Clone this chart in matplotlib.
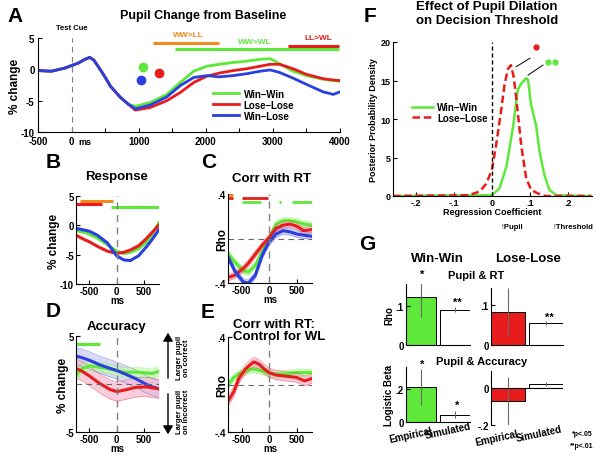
import numpy as np
import matplotlib
matplotlib.use('Agg')
import matplotlib.pyplot as plt

plt.rcParams['font.family'] = ['Liberation Sans', 'DejaVu Sans']
plt.rcParams['font.weight'] = 'bold'
plt.rcParams['axes.labelweight'] = 'bold'
plt.rcParams['axes.linewidth'] = 0.8

GREEN = '#5de83a'
RED = '#e81c1c'
BLUE = '#2b3fe0'
ORANGE = '#f28a1e'
LGREEN = '#c8f5b0'
LRED = '#f7b8d0'
LBLUE = '#c8c8f5'

# ── Panel A: pupil change from baseline ──────────────────────────
t_A = [-500, -300, -100, 0, 100, 200, 270, 330, 400, 480, 580, 730, 850, 950,
       1170, 1420, 1620, 1820, 2015, 2200, 2410, 2610, 2810, 2960, 3100, 3300,
       3500, 3750, 3900, 4000]
early_A = [-0.2, -0.3, 0.2, 0.6, 1.0, 1.6, 1.9, 1.5, 0.4, -0.9, -2.7, -4.5, -5.6]
ww_A = early_A + [-5.9, -5.3, -4.0, -2.1, -0.3, 0.5, 0.8, 1.1, 1.3, 1.6, 1.7,
                  0.9, -0.3, -1.0, -1.6, -1.8, -1.9]
ll_A = early_A + [-6.5, -6.1, -5.0, -3.7, -2.1, -1.1, -0.6, -0.2, 0.1, 0.5, 0.8,
                  0.8, 0.1, -0.8, -1.5, -1.7, -1.8]
wl_A = early_A + [-6.3, -5.7, -4.4, -2.6, -1.3, -1.0, -1.2, -1.0, -0.7, -0.3,
                  -0.1, -0.5, -1.4, -2.4, -3.6, -4.0, -3.6]
sig_A = [('WW>LL', ORANGE, 1220, 2190, 4.2, 1740, 5.6),
         ('WW>WL', GREEN, 1540, 3980, 3.2, 2730, 4.4),
         ('LL>WL', RED, 3220, 3990, 3.7, 3680, 5.1)]
dots_A = [(GREEN, 1070, 0.3), (BLUE, 1040, -1.7), (RED, 1305, -0.6)]

# ── Panel B: response locked ─────────────────────────────────────
t_B = [-740, -600, -500, -350, -170, 0, 130, 250, 400, 550, 650, 770]
ww_B = [-0.9, -1.2, -1.5, -2.2, -3.3, -4.4, -4.8, -4.6, -4.0, -2.8, -1.5, 0.4]
wl_B = [-0.5, -0.8, -1.0, -1.7, -3.0, -5.2, -5.9, -6.0, -5.2, -3.6, -2.4, -0.8]
ll_B = [-1.7, -2.4, -2.8, -3.6, -4.4, -4.8, -4.6, -4.2, -3.5, -2.2, -1.2, 0.0]
sig_B = [(ORANGE, -672, -60, 4.1), (RED, -740, -274, 3.7), (GREEN, -107, 770, 3.2)]

# ── Panel C: correlation with RT ─────────────────────────────────
t_C = [-740, -625, -470, -375, -250, -125, 0, 125, 250, 375, 500, 625, 770]
ww_C = [-0.14, -0.21, -0.29, -0.30, -0.24, -0.12, 0.0, 0.13, 0.16, 0.16, 0.15, 0.13, 0.12]
ll_C = [-0.35, -0.33, -0.27, -0.22, -0.14, -0.06, 0.01, 0.09, 0.12, 0.13, 0.11, 0.07, 0.08]
wl_C = [-0.17, -0.29, -0.39, -0.40, -0.33, -0.15, -0.03, 0.04, 0.07, 0.06, 0.04, 0.03, 0.02]
sem_C = [0.03, 0.03, 0.03]
sig_C = [(ORANGE, -740, -650, 0.39), (RED, -740, -650, 0.36), (RED, -488, -30, 0.36),
         (GREEN, -500, -156, 0.33), (GREEN, 170, 210, 0.33), (GREEN, 406, 770, 0.33)]

# ── Panel D: accuracy ────────────────────────────────────────────
t_D = [-740, -640, -490, -310, -130, 0, 170, 350, 530, 650, 770]
ww_D = [0.9, 1.6, 1.9, 1.75, 1.55, 1.4, 1.2, 1.25, 1.15, 1.1, 1.3]
wl_D = [2.9, 2.75, 2.45, 2.0, 1.65, 1.4, 1.0, 0.55, 0.0, -0.3, -0.5]
ll_D = [1.6, 1.35, 0.8, 0.05, -0.55, -0.8, -0.6, -0.35, -0.3, -0.4, -0.5]
sem_D = [0.5, 0.9, 1.0]
sig_D = [(GREEN, -740, -310, 4.2)]

# ── Panel E: corr with RT, control for WL ────────────────────────
t_E = [-760, -640, -550, -430, -335, -275, -180, -90, 0, 122, 305, 490, 640, 770]
ww_E = [-0.01, 0.06, 0.09, 0.11, 0.13, 0.13, 0.12, 0.11, 0.09, 0.09, 0.09, 0.10, 0.10, 0.10]
ll_E = [-0.15, -0.06, 0.05, 0.13, 0.17, 0.19, 0.17, 0.13, 0.10, 0.08, 0.07, 0.06, 0.03, 0.05]
sem_E = [0.03, 0.04]

# ── Panel F: posterior of regression coefficient ─────────────────
x_ll_F = [-0.26, -0.06, -0.032, -0.015, 0.0, 0.011, 0.025, 0.033, 0.042, 0.05,
          0.057, 0.064, 0.077, 0.09, 0.103, 0.12, 0.14, 0.26]
y_ll_F = [0, 0.1, 0.6, 1.6, 3.4, 6.6, 11.4, 14.4, 16.5, 17.0, 15.5, 12.7, 6.6,
          2.3, 0.8, 0.35, 0, 0]
x_ww_F = [-0.26, 0.0, 0.02, 0.038, 0.055, 0.068, 0.077, 0.09, 0.095, 0.103,
          0.116, 0.125, 0.138, 0.151, 0.169, 0.26]
y_ww_F = [0, 0.1, 1.0, 3.8, 8.8, 13.8, 14.6, 15.3, 15.1, 11.8, 9.2, 5.8, 2.7,
          0.8, 0.1, 0]

# ── Panel G: empirical vs simulated ──────────────────────────────
bar_labels = ['Empirical', 'Simulated']
ww_rt = [0.122, 0.090]
ww_rt_err = [0.05, 0.006]
ll_rt = [0.084, 0.055]
ll_rt_err = [0.06, 0.006]
ww_acc = [0.21, 0.045]
ww_acc_err = [0.11, 0.022]
ll_acc = [-0.07, 0.022]
ll_acc_err = [0.13, 0.012]


fig = plt.figure(figsize=(6, 4.6), dpi=100)


def px_axes(l, t, r, b):
    return fig.add_axes([l / 600, 1 - b / 460, (r - l) / 600, (b - t) / 460])


def ftext(x, y, s, **kw):
    fig.text(x / 600, 1 - y / 460, s, **kw)


def style(ax, fs=7):
    for s in ['top', 'right']:
        ax.spines[s].set_visible(False)
    ax.tick_params(direction='in', labelsize=fs, length=3, width=0.8, pad=1.5)


def time_panel(ax, ylim, yticks, ylabels):
    ax.set_xlim(-745, 775)
    ax.set_ylim(*ylim)
    ax.set_xticks([-500, 0, 500])
    ax.set_xticklabels(['-500', '0', '500'])
    ax.set_yticks(yticks)
    ax.set_yticklabels(ylabels)
    ax.axvline(0, color='gray', ls=(0, (5, 4)), lw=1)
    style(ax)
    ax.set_xlabel('ms', fontsize=7, labelpad=-1)


# A
axA = px_axes(38, 39, 340, 133)
axA.plot(t_A, ww_A, color=GREEN, lw=2, label='Win\u2013Win')
axA.plot(t_A, ll_A, color=RED, lw=2, label='Lose\u2013Lose')
axA.plot(t_A, wl_A, color=BLUE, lw=2, label='Win\u2013Lose')
axA.axvline(0, color='gray', ls=(0, (5, 4)), lw=0.8)
for lab, c, x0, x1, y, tx, ty in sig_A:
    axA.plot([x0, x1], [y, y], color=c, lw=2.2, solid_capstyle='butt')
    axA.text(tx, ty, lab, color=c, fontsize=6, ha='center', va='center', clip_on=False)
for c, x, y in dots_A:
    axA.plot(x, y, 'o', color=c, ms=6)
axA.set_xlim(-500, 4000)
axA.set_ylim(-10, 5)
axA.set_xticks(np.arange(-500, 4001, 500))
axA.set_xticklabels(['-500', '0', '', '1000', '', '2000', '', '3000', '', '4000'])
axA.set_yticks([5, 0, -5, -10])
axA.set_yticklabels(['5', '0', '-5', '-10'])
style(axA)
axA.tick_params(axis='x', pad=3)
axA.tick_params(axis='y', pad=2.5)
axA.set_ylabel('% change', fontsize=8.5, labelpad=0)
axA.text(0, 6.6, 'Test Cue', fontsize=5.5, ha='center', va='center', clip_on=False)
axA.text(105, -11.5, 'ms', fontsize=6.5, ha='left', va='center', clip_on=False)
axA.legend(loc='lower left', bbox_to_anchor=(0.565, 0.07), frameon=False,
           fontsize=7, handlelength=2.6, handletextpad=0.5, labelspacing=0.1,
           borderpad=0)
ftext(203, 16, 'Pupil Change from Baseline', fontsize=9, ha='center', va='center')
ftext(15, 17, 'A', fontsize=15, ha='center', va='center')

# B
axB = px_axes(76, 197, 159, 285)
axB.plot(t_B, ww_B, color=GREEN, lw=2.2)
axB.plot(t_B, ll_B, color=RED, lw=2.2)
axB.plot(t_B, wl_B, color=BLUE, lw=2.2)
for c, x0, x1, y in sig_B:
    axB.plot([x0, x1], [y, y], color=c, lw=2.2, solid_capstyle='butt')
time_panel(axB, (-10, 5), [5, 0, -5, -10], ['5', '0', '-5', '-10'])
axB.set_ylabel('% change', fontsize=8.5, labelpad=0)
ftext(117, 177, 'Response', fontsize=9.5, ha='center', va='center')
ftext(53, 163, 'B', fontsize=15, ha='center', va='center')

# C
axC = px_axes(228, 195, 312, 284)
for vals, s, c, lc in [(ww_C, sem_C[0], GREEN, LGREEN), (ll_C, sem_C[1], RED, LRED),
                       (wl_C, sem_C[2], BLUE, LBLUE)]:
    v = np.array(vals)
    axC.fill_between(t_C, v - s, v + s, color=lc, alpha=0.8, lw=0)
    axC.plot(t_C, v - s, color=c, lw=0.4, alpha=0.5)
    axC.plot(t_C, v + s, color=c, lw=0.4, alpha=0.5)
    axC.plot(t_C, v, color=c, lw=2.2)
for c, x0, x1, y in sig_C:
    axC.plot([x0, x1], [y, y], color=c, lw=2, solid_capstyle='butt')
axC.axhline(0, color='dimgray', ls=(0, (5, 4)), lw=0.8)
time_panel(axC, (-0.4, 0.4), [0.4, -0.4], ['.4', '-.4'])
axC.set_ylabel('Rho', fontsize=8.5, labelpad=-10)
ftext(272, 179, 'Corr with RT', fontsize=9.5, ha='center', va='center')
ftext(209, 163, 'C', fontsize=15, ha='center', va='center')

# D
axD = px_axes(76, 337, 159, 433)
for vals, s, c, lc in [(wl_D, sem_D[1], BLUE, LBLUE), (ll_D, sem_D[2], RED, LRED),
                       (ww_D, sem_D[0], GREEN, LGREEN)]:
    v = np.array(vals)
    axD.fill_between(t_D, v - s, v + s, color=lc, alpha=0.7, lw=0)
    axD.plot(t_D, v - s, color=c, lw=0.4, alpha=0.5)
    axD.plot(t_D, v + s, color=c, lw=0.4, alpha=0.5)
for vals, c in [(ww_D, GREEN), (wl_D, BLUE), (ll_D, RED)]:
    axD.plot(t_D, vals, color=c, lw=2.2)
for c, x0, x1, y in sig_D:
    axD.plot([x0, x1], [y, y], color=c, lw=2.2, solid_capstyle='butt')
axD.axhline(0, color='dimgray', ls=(0, (5, 4)), lw=0.8)
time_panel(axD, (-5, 5), [5, -5], ['5', '-5'])
axD.set_ylabel('% change', fontsize=8.5, labelpad=-3)
ftext(117, 327, 'Accuracy', fontsize=9.5, ha='center', va='center')
ftext(53, 312, 'D', fontsize=15, ha='center', va='center')
fig.add_artist(matplotlib.patches.FancyArrowPatch(
    (168 / 600, 1 - 382 / 460), (168 / 600, 1 - 331 / 460), transform=fig.transFigure,
    arrowstyle='-|>,head_length=5,head_width=3', color='black', lw=1))
fig.add_artist(matplotlib.patches.FancyArrowPatch(
    (168 / 600, 1 - 392 / 460), (168 / 600, 1 - 438 / 460), transform=fig.transFigure,
    arrowstyle='-|>,head_length=5,head_width=3', color='black', lw=1))
ftext(183, 358, 'Larger pupil\non correct', fontsize=5.5, rotation=90,
      ha='center', va='center', linespacing=1.0)
ftext(183, 412, 'Larger pupil\non incorrect', fontsize=5.5, rotation=90,
      ha='center', va='center', linespacing=1.0)

# E
axE = px_axes(228, 338, 312, 433)
for vals, s, c, lc in [(ww_E, sem_E[0], GREEN, LGREEN), (ll_E, sem_E[1], RED, LRED)]:
    v = np.array(vals)
    axE.fill_between(t_E, v - s, v + s, color=lc, alpha=0.8, lw=0)
    axE.plot(t_E, v - s, color=c, lw=0.4, alpha=0.5)
    axE.plot(t_E, v + s, color=c, lw=0.4, alpha=0.5)
    axE.plot(t_E, v, color=c, lw=2.2)
axE.axhline(0, color='dimgray', ls=(0, (5, 4)), lw=0.8)
time_panel(axE, (-0.4, 0.4), [0.4, -0.4], ['.4', '-.4'])
axE.set_ylabel('Rho', fontsize=8.5, labelpad=-10)
ftext(233, 331, 'Corr with RT:\nControl for WL', fontsize=9.5, ha='left',
      va='center', linespacing=1.1)
ftext(208, 313, 'E', fontsize=15, ha='center', va='center')

# F
axF = px_axes(393, 43, 592, 197)
axF.plot(x_ww_F, y_ww_F, color=GREEN, lw=1.8, label='Win\u2013Win')
axF.plot(x_ll_F, y_ll_F, color=RED, lw=1.8, ls=(0, (3, 1.5)), label='Lose\u2013Lose')
axF.axvline(0, color='black', ls=(0, (3, 2)), lw=1)
axF.plot([0.064, 0.1], [16.8, 17.9], color='black', lw=0.7)
axF.plot([0.095, 0.134], [15.7, 17.0], color='black', lw=0.7)
axF.plot([0.117], [19.4], 'o', color=RED, ms=3.5)
axF.plot([0.147, 0.167], [17.4, 17.4], 'o', color=GREEN, ms=3.5, ls='none')
axF.set_xlim(-0.26, 0.263)
axF.set_ylim(0, 20)
axF.set_xticks([-0.2, -0.1, 0, 0.1, 0.2])
axF.set_xticklabels(['-.2', '-.1', '0', '.1', '.2'])
axF.set_yticks([0, 5, 10, 15, 20])
style(axF, fs=6.5)
axF.set_xlabel('Regression Coefficient', fontsize=6.5, labelpad=0)
axF.set_ylabel('Posterior Probability Density', fontsize=6.5, labelpad=2)
axF.legend(loc='upper left', bbox_to_anchor=(0.07, 0.64), frameon=False,
           fontsize=7, handlelength=2.2, handletextpad=0.4, labelspacing=0.05,
           borderpad=0)
ftext(512, 228, '\u2191Pupil', fontsize=5.5, ha='center', va='center')
ftext(573, 228, '\u2191Threshold', fontsize=5.5, ha='center', va='center')
ftext(487, 14, 'Effect of Pupil Dilation\non Decision Threshold', fontsize=9.5,
      ha='center', va='center', linespacing=1.15)
ftext(370, 17, 'F', fontsize=15, ha='center', va='center')

# G
def bar_panel(rect, vals, errs, color, ylim, yticks, ylabels, xlab):
    ax = px_axes(*rect)
    x = np.arange(len(vals))
    ax.bar(x, vals, width=0.9, color=[color, 'white'], edgecolor='black', lw=0.7)
    ax.errorbar(x, vals, yerr=errs, fmt='none', ecolor='dimgray', elinewidth=0.8,
                capsize=0, clip_on=True)
    ax.set_xlim(-0.45, 1.45)
    ax.set_ylim(*ylim)
    ax.set_yticks(yticks)
    ax.set_yticklabels(ylabels)
    ax.set_xticks([])
    style(ax, fs=7)
    if ylim[0] < 0:
        ax.spines['bottom'].set_visible(False)
        ax.axhline(0, color='black', lw=0.8)
    if xlab:
        ax.text(0.08, -0.05, bar_labels[0], transform=ax.transAxes, fontsize=7,
                rotation=12, ha='center', va='top')
        ax.text(0.66, 0.03, bar_labels[1], transform=ax.transAxes, fontsize=7,
                rotation=12, ha='center', va='top')
    return ax


gA = bar_panel((406, 285, 470, 346), ww_rt, ww_rt_err, GREEN, (0, 0.156),
               [0, 0.1], ['0', '.1'], False)
gA.set_ylabel('Rho', fontsize=7, labelpad=1)
gB = bar_panel((491, 289, 563, 346), ll_rt, ll_rt_err, RED, (0, 0.143),
               [0, 0.1], ['0', '.1'], False)
gC = bar_panel((406, 368, 470, 423), ww_acc, ww_acc_err, GREEN, (0, 0.333),
               [0, 0.2], ['0', '.2'], True)
gC.set_ylabel('Logistic Beta', fontsize=7, labelpad=1)
gD = bar_panel((491, 372, 563, 426), ll_acc, ll_acc_err, RED, (-0.2, 0.092),
               [0, -0.2], ['0', '-.2'], True)

ftext(422, 275, '*', fontsize=8, ha='center', va='center')
ftext(457, 303, '**', fontsize=8, ha='center', va='center')
ftext(549, 318, '**', fontsize=8, ha='center', va='center')
ftext(422, 365, '*', fontsize=8, ha='center', va='center')
ftext(457, 406, '*', fontsize=8, ha='center', va='center')

ftext(437, 259, 'Win-Win', fontsize=9.5, ha='center', va='center')
ftext(528, 259, 'Lose-Lose', fontsize=9.5, ha='center', va='center')
ftext(476, 276, 'Pupil & RT', fontsize=8, ha='center', va='center')
ftext(482, 362, 'Pupil & Accuracy', fontsize=8, ha='center', va='center')
ftext(582, 435, '*p<.05', fontsize=5, ha='center', va='center')
ftext(582, 447, '**p<.01', fontsize=5, ha='center', va='center')
ftext(367, 245, 'G', fontsize=15, ha='center', va='center')

plt.savefig('out.png', dpi=100)
